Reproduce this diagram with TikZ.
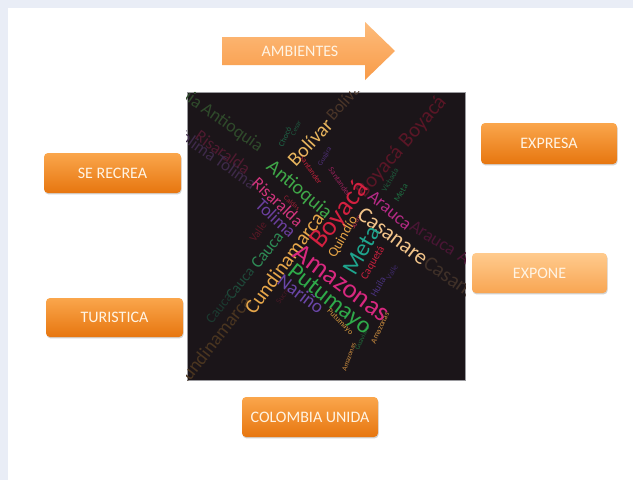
\documentclass[tikz,border=0pt]{standalone}
\usepackage{fontspec}
\setmainfont{Carlito}
\usetikzlibrary{shadows}
\definecolor{bgblue}{HTML}{E9EDF6}
\definecolor{boxtop}{HTML}{FAA64C}
\definecolor{boxbot}{HTML}{E7760F}
\definecolor{lighttop}{HTML}{FFCB8E}
\definecolor{lightbot}{HTML}{F8A552}
\definecolor{arrtop}{HTML}{FDBC7C}
\definecolor{arrbot}{HTML}{F89B48}
\definecolor{boxtext}{HTML}{FFF4E4}
\definecolor{clouddark}{HTML}{1B1519}
\definecolor{cloudedge}{HTML}{9A9A9E}
\tikzset{
  obox/.style={rounded corners=4pt, minimum width=137pt, minimum height=40pt,
    top color=boxtop, bottom color=boxbot, text=boxtext, inner sep=0pt,
    font=\fontsize{16}{16}\selectfont,
    drop shadow={shadow xshift=0.6pt, shadow yshift=-1.4pt, opacity=0.25, fill=black!70}},
  lbox/.style={obox, top color=lighttop, bottom color=lightbot},
  wc/.style={inner sep=0pt, anchor=center},
}
\begin{document}
\begin{tikzpicture}[x=1pt,y=-1pt]
\useasboundingbox (0,0) rectangle (633,480);
\fill[bgblue] (0,0) rectangle (633,480);
\fill[white] (8,8) rectangle (633,480);

% arrow
\shade[top color=arrtop, bottom color=arrbot] (222,37) -- (365,37) -- (365,22) -- (395,51) -- (365,80) -- (365,65) -- (222,65) -- cycle;
\node[text=boxtext, font=\fontsize{16}{16}\selectfont] (ambientes) at (300,51) {AMBIENTES};

% boxes
\node[obox] (serecrea) at (112.5,173) {SE RECREA};
\node[obox, minimum height=39pt] (turistica) at (114.5,317.5) {TURISTICA};
\node[obox, minimum width=136pt, minimum height=41pt] (expresa) at (549,143.5) {EXPRESA};
\node[lbox, minimum width=135pt] (expone) at (539.5,273) {EXPONE};
\node[obox, minimum width=136pt] (colombia) at (310,417) {COLOMBIA UNIDA};

% word cloud
\node[fill=clouddark, draw=cloudedge, line width=0.6pt, minimum width=278pt, minimum height=288pt, inner sep=0pt] (cloud) at (326,236) {};
\begin{scope}
\clip (cloud.north west) rectangle (cloud.south east);
\begin{scope}[every node/.style={wc}]
% faint layer
\node[rotate=-35, text={rgb,255:red,47;green,74;blue,43}, font=\fontsize{18}{18}\selectfont] (a0) at (171,85) {Antioquia};
\node[rotate=-35, text={rgb,255:red,47;green,74;blue,43}, font=\fontsize{18}{18}\selectfont] (a1) at (232,128) {Antioquia};
\node[rotate=-35, text={rgb,255:red,80;green,26;blue,48}, font=\fontsize{17}{17}\selectfont] (r0) at (223,152) {Risaralda};
\node[rotate=-35, text={rgb,255:red,62;green,42;blue,74}, font=\fontsize{17}{17}\selectfont] (t0) at (236,172) {Tolima};
\node[rotate=-35, text={rgb,255:red,62;green,42;blue,74}, font=\fontsize{17}{17}\selectfont] (t00) at (196,144) {Tolima};
\node[rotate=48, text={rgb,255:red,74;green,53;blue,40}, font=\fontsize{17}{17}\selectfont] (b0) at (345,100) {Bolívar};
\node[rotate=49, text={rgb,255:red,90;green,22;blue,38}, font=\fontsize{21}{21}\selectfont] (y0) at (380,172) {Boyacá};
\node[rotate=49, text={rgb,255:red,90;green,22;blue,38}, font=\fontsize{21}{21}\selectfont] (y00) at (423,122) {Boyacá};
\node[rotate=-32, text={rgb,255:red,74;green,21;blue,53}, font=\fontsize{18}{18}\selectfont] (ar0) at (433,238) {Arauca};
\node[rotate=-32, text={rgb,255:red,74;green,21;blue,53}, font=\fontsize{18}{18}\selectfont] (ar00) at (481,268) {Arauca};
\node[rotate=-35, text={rgb,255:red,63;green,48;blue,40}, font=\fontsize{21}{21}\selectfont] (c0) at (458,283) {Casanare};
\node[rotate=52, text={rgb,255:red,74;green,53;blue,32}, font=\fontsize{19}{19}\selectfont] (cu0) at (213,342) {Cundinamarca};
\node[rotate=52, text={rgb,255:red,31;green,74;blue,58}, font=\fontsize{15}{15}\selectfont] (ca0) at (240,283) {Cauca};
\node[rotate=52, text={rgb,255:red,28;green,58;blue,48}, font=\fontsize{14}{14}\selectfont] (ca00) at (219,308) {Cauca};
\node[rotate=55, text={rgb,255:red,90;green,24;blue,37}, font=\fontsize{11}{11}\selectfont] (v0) at (258,232) {Valle};
\node[rotate=55, text={rgb,255:red,70;green,24;blue,37}, font=\fontsize{8}{8}\selectfont] (v1) at (283,296) {Sucre};
% small words
\node[rotate=65, text={rgb,255:red,31;green,106;blue,74}, font=\fontsize{8}{8}\selectfont] (s1) at (285,137) {Chocó};
\node[rotate=65, text={rgb,255:red,31;green,90;blue,64}, font=\fontsize{7}{7}\selectfont] (s2) at (296,128) {Cesar};
\node[rotate=-55, text={rgb,255:red,192;green,32;blue,58}, font=\fontsize{8}{8}\selectfont] (s3) at (311,170) {Santander};
\node[rotate=-55, text={rgb,255:red,150;green,32;blue,90}, font=\fontsize{8}{8}\selectfont] (s4) at (340,182) {Santander};
\node[rotate=60, text={rgb,255:red,80;green,48;blue,122}, font=\fontsize{7}{7}\selectfont] (s5) at (325,157) {Guajira};
\node[rotate=-40, text={rgb,255:red,160;green,30;blue,53}, font=\fontsize{7}{7}\selectfont] (s6) at (292,203) {Caldas};
\node[rotate=60, text={rgb,255:red,30;green,106;blue,64}, font=\fontsize{9}{9}\selectfont] (s7) at (401,193) {Meta};
\node[rotate=60, text={rgb,255:red,30;green,90;blue,60}, font=\fontsize{8}{8}\selectfont] (s8) at (390,180) {Vichada};
\node[rotate=60, text={rgb,255:red,74;green,51;blue,128}, font=\fontsize{10}{10}\selectfont] (s9) at (378,287) {Huila};
\node[rotate=60, text={rgb,255:red,60;green,40;blue,100}, font=\fontsize{8}{8}\selectfont] (s10) at (392,272) {Valle};
\node[rotate=60, text={rgb,255:red,192;green,48;blue,80}, font=\fontsize{7}{7}\selectfont] (s11) at (356,222) {Sucre};
\node[rotate=-45, text={rgb,255:red,216;green,154;blue,62}, font=\fontsize{8}{8}\selectfont] (s12) at (340,322) {Putumayo};
\node[rotate=70, text={rgb,255:red,208;green,144;blue,64}, font=\fontsize{7}{7}\selectfont] (s13) at (349,357) {Amazonas};
\node[rotate=65, text={rgb,255:red,208;green,144;blue,64}, font=\fontsize{8}{8}\selectfont] (s14) at (380,328) {Amazonas};
\node[rotate=65, text={rgb,255:red,31;green,106;blue,58}, font=\fontsize{7}{7}\selectfont] (s15) at (362,338) {Guaviare};
% bright layer
\node[rotate=47, text={rgb,255:red,232;green,181;blue,94}, font=\fontsize{20}{20}\selectfont] (bolivar) at (310,142) {Bolívar};
\node[rotate=-40, text={rgb,255:red,63;green,167;blue,72}, font=\fontsize{20}{20}\selectfont] (antioquia) at (299,190) {Antioquia};
\node[rotate=-43, text={rgb,255:red,210;green,53;blue,126}, font=\fontsize{17}{17}\selectfont] (risaralda) at (278,202) {Risaralda};
\node[rotate=-43, text={rgb,255:red,107;green,63;blue,158}, font=\fontsize{18}{18}\selectfont] (tolima) at (276,218) {Tolima};
\node[rotate=52, text={rgb,255:red,46;green,138;blue,85}, font=\fontsize{17}{17}\selectfont] (cauca) at (267,250) {Cauca};
\node[rotate=54, text={rgb,255:red,230;green,166;blue,74}, font=\fontsize{20.5}{20.5}\selectfont] (cundinamarca) at (284,263) {Cundinamarca};
\node[rotate=52, text={rgb,255:red,212;green,32;blue,64}, font=\fontsize{27}{27}\selectfont] (boyaca) at (340,215) {Boyacá};
\node[rotate=-40, text={rgb,255:red,181;green,42;blue,134}, font=\fontsize{18}{18}\selectfont] (arauca) at (390,210) {Arauca};
\node[rotate=-37, text={rgb,255:red,242;green,196;blue,138}, font=\fontsize{22}{22}\selectfont] (casanare) at (393,236) {Casanare};
\node[rotate=60, text={rgb,255:red,227;green,162;blue,69}, font=\fontsize{14}{14}\selectfont] (quindio) at (343,237) {Quindío};
\node[rotate=60, text={rgb,255:red,31;green,165;blue,142}, font=\fontsize{24}{24}\selectfont] (meta) at (362,250) {Meta};
\node[rotate=60, text={rgb,255:red,200;green,32;blue,62}, font=\fontsize{11}{11}\selectfont] (caqueta) at (373,263) {Caquetá};
\node[rotate=-36, text={rgb,255:red,216;green,40;blue,127}, font=\fontsize{27}{27}\selectfont] (amazonas) at (342,283) {Amazonas};
\node[rotate=-38, text={rgb,255:red,47;green,170;blue,74}, font=\fontsize{24}{24}\selectfont] (putumayo) at (329,300) {Putumayo};
\node[rotate=-37, text={rgb,255:red,106;green,70;blue,168}, font=\fontsize{19}{19}\selectfont] (narino) at (301,294) {Nariño};
\end{scope}
\end{scope}
\end{tikzpicture}
\end{document}
